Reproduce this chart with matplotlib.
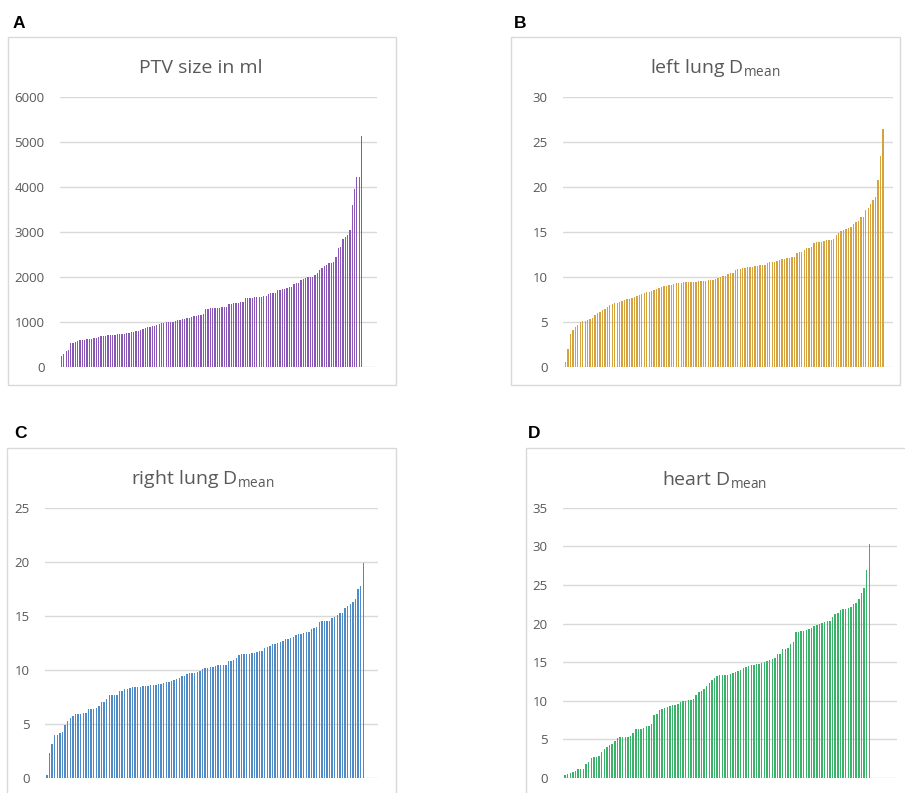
import numpy as np
import matplotlib
matplotlib.use("Agg")
import matplotlib.pyplot as plt
from matplotlib.patches import Rectangle

plt.rcParams['font.family'] = ['Open Sans', 'DejaVu Sans']
plt.rcParams['mathtext.fontset'] = 'custom'
plt.rcParams['mathtext.rm'] = 'Open Sans'
plt.rcParams['mathtext.it'] = 'Open Sans'

# values (sorted per patient)
ptv_ml = [250, 300, 360, 390, 530,
          545, 560, 585, 600, 610, 615, 625, 630, 640, 645, 655, 670, 690,
          700, 705, 710, 715, 720, 725, 730, 735, 740, 750, 755,
          770, 780, 790, 800, 815, 830,
          860, 875, 890, 900, 910, 920,
          950, 965, 980, 990, 1000, 1005, 1010, 1015,
          1035, 1045, 1055, 1065, 1075, 1085, 1090,
          1120, 1130, 1145, 1160, 1170, 1180,
          1300, 1305, 1310, 1315, 1320, 1320, 1325, 1330, 1335, 1340,
          1400, 1410, 1420, 1430, 1440, 1450, 1460,
          1530, 1540, 1545, 1550, 1555, 1560, 1565, 1570, 1580, 1585,
          1640, 1650, 1655, 1660,
          1710, 1720, 1735, 1750, 1765, 1780,
          1793, 1852, 1867, 1881, 1940, 1956, 1993, 2000, 2015, 2015,
          2052, 2104, 2163, 2200, 2252, 2274, 2311, 2326, 2348, 2459,
          2644, 2681, 2844, 2904, 2940, 3052, 3607, 3955, 4237, 4237, 5140]

left_lung = [0.6, 2.0, 3.7, 4.2, 4.5, 4.7, 5.0, 5.1, 5.2, 5.3,
             5.4, 5.5, 5.8, 6.0, 6.2, 6.4, 6.5, 6.7, 6.9, 7.0,
             7.1, 7.2, 7.3, 7.4, 7.5, 7.55, 7.6, 7.7, 7.8, 7.9,
             8.0, 8.2, 8.3, 8.35, 8.4, 8.5, 8.6, 8.7, 8.8, 8.9,
             9.0, 9.05, 9.1, 9.2, 9.3, 9.4,
             9.4, 9.4, 9.45, 9.45, 9.45, 9.5, 9.5, 9.5, 9.55, 9.55, 9.6,
             9.6, 9.65, 9.7, 9.75, 9.8,
             9.9, 10.0, 10.1, 10.2,
             10.4, 10.45, 10.5,
             10.8, 10.9, 10.95, 11.0, 11.0,
             11.1, 11.2, 11.2, 11.3, 11.3, 11.35, 11.4, 11.4,
             11.6, 11.65, 11.7, 11.7, 11.8,
             11.9, 12.0, 12.05, 12.1,
             12.1, 12.25, 12.3, 12.7, 12.8, 12.85, 13.0, 13.3, 13.3, 13.4,
             13.8, 13.9, 13.9, 13.95, 14.05, 14.1, 14.15, 14.15, 14.3, 14.7,
             14.9, 15.2, 15.25, 15.4, 15.45, 15.55, 15.9, 16.1, 16.3, 16.7,
             16.7, 17.5, 17.7, 18.1, 18.6, 18.9, 20.8, 23.5, 26.5]

right_lung = [0.3, 2.3, 3.15, 4.0, 4.0, 4.2, 4.3, 4.95, 5.3, 5.6,
              5.75, 5.9, 5.9, 5.95, 6.0, 6.05, 6.35, 6.35, 6.35, 6.5,
              6.65, 7.05, 7.05, 7.3, 7.65, 7.7, 7.7, 7.7, 8.05, 8.1,
              8.2, 8.25, 8.3, 8.4, 8.45, 8.45, 8.45, 8.5, 8.5, 8.55,
              8.6, 8.65, 8.65, 8.7, 8.75, 8.8, 8.9, 8.9, 9.0, 9.05,
              9.2, 9.3, 9.4, 9.45, 9.6, 9.7, 9.7, 9.75, 9.85, 9.9,
              10.05, 10.15, 10.2, 10.25, 10.3, 10.35, 10.45, 10.45, 10.45, 10.5,
              10.8, 10.85, 10.9, 11.15, 11.4, 11.5, 11.5, 11.5, 11.5, 11.6,
              11.6, 11.65, 11.75, 11.8, 12.0, 12.15, 12.25, 12.4, 12.45, 12.5,
              12.6, 12.7, 12.85, 12.9, 13.0, 13.1, 13.2, 13.3, 13.35,
              13.45, 13.5, 13.55, 13.8, 13.85, 13.95, 14.4, 14.5, 14.55, 14.55,
              14.55, 14.8, 14.95, 15.1, 15.3, 15.3, 15.7, 15.9, 16.1, 16.3,
              16.6, 17.5, 17.8, 19.95]

heart = [0.45, 0.55, 0.6, 0.75, 0.85, 1.2, 1.2, 1.2, 1.75, 2.05,
         2.55, 2.7, 2.7, 2.9, 3.4, 3.75, 4.0, 4.25, 4.45, 4.85,
         5.15, 5.25, 5.25, 5.25, 5.3, 5.5, 5.85, 6.3, 6.3, 6.35,
         6.5, 6.7, 6.8, 6.95, 8.1, 8.3, 8.85, 8.95, 9.1, 9.2,
         9.3, 9.4, 9.5, 9.65, 9.8, 9.95, 9.95, 10.05, 10.15, 10.25,
         10.7, 11.1, 11.25, 11.5, 11.9, 12.35, 12.75, 13.0, 13.2, 13.3,
         13.35, 13.35, 13.4, 13.5, 13.65, 13.7, 13.85, 14.05, 14.2, 14.35,
         14.5, 14.65, 14.7, 14.8, 14.8, 14.95, 15.0, 15.15, 15.3, 15.45,
         15.6, 16.0, 16.1, 16.65, 16.75, 16.8, 17.3, 17.6,
         18.9, 18.9, 19.0, 19.0, 19.2, 19.35, 19.45, 19.65, 19.8, 19.95,
         20.1, 20.2, 20.3, 20.4, 20.85, 21.25, 21.4, 21.7, 21.9, 21.9,
         22.0, 22.2, 22.5, 22.7, 23.2, 24.0, 24.6, 26.9, 30.3]

W, H = 905, 793
fig = plt.figure(figsize=(W / 100, H / 100), dpi=100)

grey_txt = '#595959'
grid_c = '#d9d9d9'


def px_box(x0, y0, x1, y1):
    # pixel box (top-left origin) -> figure fraction
    return [x0 / W, 1 - y1 / H, (x1 - x0) / W, (y1 - y0) / H]


def panel(vals, color, title, yticks, ax_px, bar_px, frame_px, title_xy, letter_xy, letter):
    # frame around the whole chart
    fx0, fy0, fx1, fy1 = frame_px
    fig.patches.append(Rectangle((fx0 / W, 1 - fy1 / H), (fx1 - fx0) / W, (fy1 - fy0) / H,
                                 transform=fig.transFigure, fill=False,
                                 edgecolor=grid_c, linewidth=1.0))
    fig.text(letter_xy[0] / W, 1 - letter_xy[1] / H, letter,
             family='Liberation Sans', weight='bold', fontsize=12.5,
             ha='left', va='center', color='black')
    fig.text(title_xy[0] / W, 1 - title_xy[1] / H, title, fontsize=14,
             color=grey_txt, ha='center', va='center')

    x0, y0, x1, y1 = ax_px
    ax = fig.add_axes(px_box(x0, y0, x1, y1))
    n = len(vals)
    idx = np.arange(n)
    ax.bar(idx, vals, width=0.55, color=color, linewidth=0)
    # map bar positions to pixels
    b0, b1 = bar_px
    step = (b1 - b0) / (n - 1)
    ax.set_xlim(-(b0 - x0) / step, n - 1 + (x1 - b1) / step)
    ax.set_ylim(0, yticks[-1])
    ax.set_yticks(yticks)
    ax.yaxis.grid(True, color=grid_c, linewidth=1.0)
    ax.set_axisbelow(True)
    ax.set_xticks([])
    for s in ax.spines.values():
        s.set_visible(False)
    ax.tick_params(axis='y', length=0, pad=11, labelsize=9.5, labelcolor=grey_txt)
    return ax


panel(ptv_ml, '#8a56b8', 'PTV size in ml', [0, 1000, 2000, 3000, 4000, 5000, 6000],
      (60, 97.3, 377, 367.3), (61.5, 361.5), (8, 37, 396, 385), (201, 68), (13, 23), 'A')
panel(left_lung, '#d6a23e', r'left lung D$_{\mathrm{mean}}$', [0, 5, 10, 15, 20, 25, 30],
      (563, 97.3, 893, 367.3), (565.5, 883), (511, 37, 900, 385), (715, 68), (514, 23), 'B')
panel(right_lung, '#4f8ac9', r'right lung D$_{\mathrm{mean}}$', [0, 5, 10, 15, 20, 25],
      (45, 508, 378, 778), (47, 363.3), (7, 448, 396, 800), (203, 479), (14, 434), 'C')
panel(heart, '#3bb26a', r'heart D$_{\mathrm{mean}}$', [0, 5, 10, 15, 20, 25, 30, 35],
      (563, 507.8, 897, 778), (565, 869.3), (526, 448, 910, 800), (715, 479), (528, 434), 'D')

fig.savefig('out.png', dpi=100)
